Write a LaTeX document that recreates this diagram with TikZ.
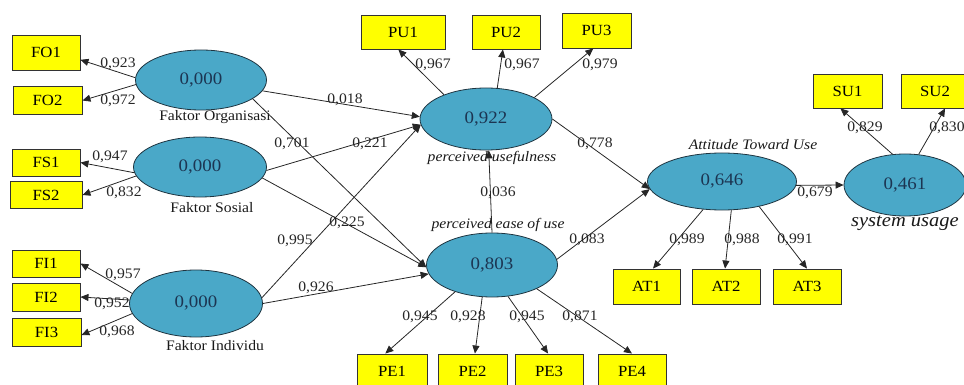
\documentclass[tikz,border=0pt]{standalone}
\usepackage{fontspec}
\setmainfont{Liberation Serif}[FakeStretch=1.08]
\usetikzlibrary{arrows.meta,shapes.geometric}
\definecolor{lvfill}{HTML}{4AA8C8}
\definecolor{lvtext}{HTML}{1C3552}
\definecolor{lvline}{HTML}{1E3440}
\definecolor{mvfill}{HTML}{FFFF00}
\begin{document}
\begin{tikzpicture}[x=1pt,y=-1pt,
  lv/.style={ellipse,draw=lvline,line width=0.8pt,fill=lvfill,inner sep=0pt,
    text=lvtext,font=\fontsize{17.5}{17.5}\selectfont},
  mv/.style={rectangle,draw=black!80,line width=0.9pt,fill=mvfill,inner sep=0pt,
    minimum width=68pt,minimum height=30pt,font=\fontsize{15.5}{15.5}\selectfont},
  coef/.style={inner sep=0pt,text=black!85,font=\fontsize{14.5}{14.5}\selectfont},
  lvname/.style={inner sep=0pt,text=black!90,font=\fontsize{14.5}{14.5}\selectfont},
  lvital/.style={inner sep=0pt,text=black!90,font=\fontsize{14.5}{14.5}\selectfont\itshape},
  arr/.style={draw=black!85,line width=0.8pt,-{Triangle[length=8pt,width=7pt]}}]
\useasboundingbox (0,0) rectangle (964,385);
% latent variables
\node[lv,minimum width=131pt,minimum height=60pt] (FO) at (201,80) {0,000};
\node[lv,minimum width=133pt,minimum height=60pt] (FS) at (200,167) {0,000};
\node[lv,minimum width=133pt,minimum height=67pt] (FI) at (196,303.5) {0,000};
\node[lv,minimum width=132pt,minimum height=62pt] (PU) at (486,119) {0,922};
\node[lv,minimum width=131pt,minimum height=64pt] (PE) at (492,265) {0,803};
\node[lv,minimum width=149pt,minimum height=57pt] (AT) at (722,181.5) {0,646};
\node[lv,minimum width=122pt,minimum height=62pt] (SU) at (905,185) {0,461};
% latent names
\node[lvname] (nFO) at (215,117) {Faktor Organisasi};
\node[lvname] (nFS) at (212,208) {Faktor Sosial};
\node[lvname] (nFI) at (215,346) {Faktor Individu};
\node[lvital] (nPU) at (492,158) {perceived usefulness};
\node[lvital] (nPE) at (498,225) {perceived ease of use};
\node[lvital] (nAT) at (753,145) {Attitude Toward Use};
\node[lvital,font=\fontsize{19}{19}\selectfont\itshape] (nSU) at (905,223) {system usage};
% indicators
\node[mv,minimum height=35pt] (FO1) at (46,52.5) {FO1};
\node[mv,minimum height=28pt,minimum width=69pt] (FO2) at (47.5,100.5) {FO2};
\node[mv,minimum height=27pt] (FS1) at (46,162.5) {FS1};
\node[mv,minimum height=27pt,minimum width=72pt] (FS2) at (46,195) {FS2};
\node[mv,minimum height=27pt] (FI1) at (46,263.5) {FI1};
\node[mv,minimum height=28pt] (FI2) at (46,297) {FI2};
\node[mv,minimum height=28pt,minimum width=69pt] (FI3) at (46.5,332) {FI3};
\node[mv,minimum height=34pt,minimum width=84pt] (PU1) at (403,32) {PU1};
\node[mv,minimum height=34pt] (PU2) at (506,32) {PU2};
\node[mv,minimum height=35pt,minimum width=69pt] (PU3) at (596.5,30.5) {PU3};
\node[mv,minimum height=34pt,minimum width=70pt] (PE1) at (392,371) {PE1};
\node[mv,minimum height=34pt,minimum width=69pt] (PE2) at (472.5,371) {PE2};
\node[mv,minimum height=34pt] (PE3) at (549,371) {PE3};
\node[mv,minimum height=34pt] (PE4) at (632,371) {PE4};
\node[mv,minimum height=35pt,minimum width=67pt] (AT1) at (646.5,286.5) {AT1};
\node[mv,minimum height=35pt] (AT2) at (726,286.5) {AT2};
\node[mv,minimum height=35pt] (AT3) at (807,286.5) {AT3};
\node[mv,minimum height=34pt,minimum width=69pt] (SU1) at (847.5,91) {SU1};
\node[mv,minimum height=34pt,minimum width=68pt] (SU2) at (935,91) {SU2};
% outer loadings
\draw[arr] (FO.178) -- (FO1.-12);
\draw[arr] (FO.184) -- (FO2.east);
\draw[arr] (FS.185) -- (FS1.east);
\draw[arr] (FS.188) -- (FS2.east);
\draw[arr] (FI.171) -- (FI1.east);
\draw[arr] (FI.177) -- (FI2.east);
\draw[arr] (FI.189) -- (FI3.-5);
\draw[arr] (PU.150) -- (PU1.-105);
\draw[arr] (PU.70) -- (PU2.-100);
\draw[arr] (PU.24) -- (PU3.-100);
\draw[arr] (PE.216) -- (PE1.111);
\draw[arr] (PE.253) -- (PE2.82);
\draw[arr] (PE.297) -- (PE3.93);
\draw[arr] (PE.-28) -- (PE4.north);
\draw[arr] (AT.236) -- (AT1.70);
\draw[arr] (AT.-72) -- (AT2.93);
\draw[arr] (AT.-34) -- (AT3.north);
\draw[arr] (SU.112) -- (SU1.-112);
\draw[arr] (SU.66) -- (SU2.-60);
% structural paths
\draw[arr] (FO.-10) -- (PU.178);
\draw[arr] (FO.-20) -- (PE.182);
\draw[arr] (FS.-3) -- (PU.185);
\draw[arr] (FS.-10) -- (PE.182);
\draw[arr] (FI.5) -- (PU.185);
\draw[arr] (FI.0) -- (PE.188);
\draw[arr] (PE.north) -- (PU.-85);
\draw[arr] (PU.east) -- (AT.186);
\draw[arr] (PE.5) -- (AT.186);
\draw[arr] (AT.-3) -- (SU.west);
% coefficients
\node[coef] (c1) at (118,64) {0,923};
\node[coef] (c2) at (118,101) {0,972};
\node[coef] (c3) at (110,157) {0,947};
\node[coef] (c4) at (124,193) {0,832};
\node[coef] (c5) at (123,275) {0,957};
\node[coef] (c6) at (112,304) {0,952};
\node[coef] (c7) at (117,332) {0,968};
\node[coef] (c8) at (345,100) {0,018};
\node[coef] (c9) at (292,144) {0,701};
\node[coef] (c10) at (370,144) {0,221};
\node[coef] (c11) at (347,223) {0,225};
\node[coef] (c12) at (295,241) {0,995};
\node[coef] (c13) at (316,288) {0,926};
\node[coef] (c14) at (498,193) {0,036};
\node[coef] (c15) at (595,144) {0,778};
\node[coef] (c16) at (587,240) {0,083};
\node[coef] (c17) at (433,65) {0,967};
\node[coef] (c18) at (522,65) {0,967};
\node[coef] (c19) at (600,65) {0,979};
\node[coef] (c20) at (420,317) {0,945};
\node[coef] (c21) at (468,317) {0,928};
\node[coef] (c22) at (527,317) {0,945};
\node[coef] (c23) at (580,317) {0,871};
\node[coef] (c24) at (687,240) {0,989};
\node[coef] (c25) at (742,240) {0,988};
\node[coef] (c26) at (795,240) {0,991};
\node[coef] (c27) at (815,193) {0,679};
\node[coef] (c28) at (865,128) {0,829};
\node[coef] (c29) at (947,128) {0,830};
\end{tikzpicture}
\end{document}
